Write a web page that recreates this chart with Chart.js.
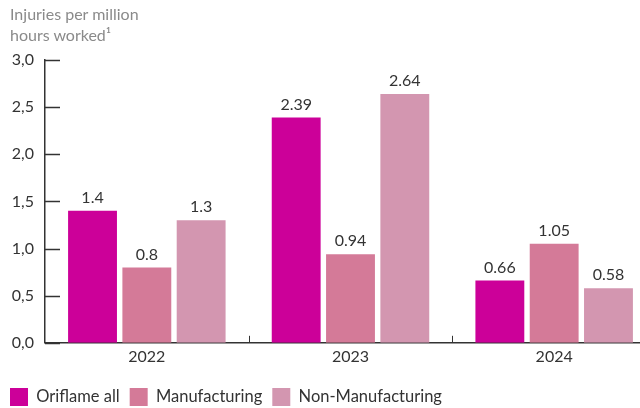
<!DOCTYPE html>
<html>
<head>
<meta charset="utf-8">
<script src="https://cdn.jsdelivr.net/npm/chart.js@4.4.1/dist/chart.umd.min.js"></script>
<style>
  html, body { margin: 0; padding: 0; background: #fff; overflow: hidden; }
  #wrap { position: relative; width: 656px; height: 408px; }
  #axis-title {
    position: absolute; left: 10px; top: 3px;
    font: 16px Lato, sans-serif; color: #8a8a8a; line-height: 21px;
  }
</style>
</head>
<body>
<div id="wrap">
  <canvas id="chart" width="656" height="408"></canvas>
  <div id="axis-title">Injuries per million<br>hours worked¹</div>
</div>
<script>
// Chart data
const years = ['2022', '2023', '2024'];
const oriflameAll = [1.4, 2.39, 0.66];
const manufacturing = [0.8, 0.94, 1.05];
const nonManufacturing = [1.3, 2.64, 0.58];
const yTicks = [0, 0.5, 1.0, 1.5, 2.0, 2.5, 3.0];

const FONT = 'Lato, sans-serif';
const TEXT = '#333333';

// Draws the inward tick marks and the value labels above bars
const extrasPlugin = {
    id: 'extras',
    afterDraw(chart) {
        const ctx = chart.ctx;
        const x = chart.scales.x;
        const y = chart.scales.y;
        ctx.save();
        ctx.strokeStyle = TEXT;
        ctx.lineWidth = 1.5;
        // y ticks point into the plot
        yTicks.forEach(v => {
            const py = Math.round(y.getPixelForValue(v)) + 0.5;
            ctx.beginPath();
            ctx.moveTo(x.left, py);
            ctx.lineTo(x.left + 15, py);
            ctx.stroke();
        });
        // small ticks between categories
        ctx.lineWidth = 1;
        for (let i = 1; i < years.length; i++) {
            const px = Math.round((x.getPixelForValue(i - 1) + x.getPixelForValue(i)) / 2) + 0.5;
            ctx.beginPath();
            ctx.moveTo(px, y.bottom);
            ctx.lineTo(px, y.bottom - 7);
            ctx.stroke();
        }
        // value labels
        ctx.fillStyle = TEXT;
        ctx.font = '16px ' + FONT;
        ctx.textAlign = 'center';
        ctx.textBaseline = 'bottom';
        chart.data.datasets.forEach((ds, i) => {
            chart.getDatasetMeta(i).data.forEach((bar, j) => {
                ctx.fillText(String(ds.data[j]), bar.x, bar.y - 5);
            });
        });
        ctx.restore();
    }
};

new Chart(document.getElementById('chart'), {
    type: 'bar',
    data: {
        labels: years,
        datasets: [
            { label: 'Oriflame all', data: oriflameAll, backgroundColor: '#cc0099' },
            { label: 'Manufacturing', data: manufacturing, backgroundColor: '#d47a98' },
            { label: 'Non-Manufacturing', data: nonManufacturing, backgroundColor: '#d396b0' }
        ]
    },
    options: {
        responsive: false,
        animation: false,
        categoryPercentage: 0.8,
        barPercentage: 0.9,
        layout: { padding: { top: 60, right: 0, bottom: -8, left: 0 } },
        plugins: {
            tooltip: { enabled: false },
            legend: {
                position: 'bottom',
                align: 'start',
                labels: {
                    boxWidth: 18,
                    boxHeight: 18,
                    padding: 10,
                    color: TEXT,
                    font: { family: FONT, size: 16.5 }
                }
            }
        },
        scales: {
            x: {
                afterFit(scale) { scale.height = scale.height + 8; },
                grid: { display: false, drawTicks: false },
                border: { color: TEXT, width: 1.5 },
                ticks: { color: TEXT, font: { family: FONT, size: 16 }, padding: 4 }
            },
            y: {
                min: 0,
                max: 3,
                afterFit(scale) { scale.width = 45; },
                afterBuildTicks(scale) { scale.ticks = yTicks.map(v => ({ value: v })); },
                grid: { display: false, drawTicks: false },
                border: { color: TEXT, width: 1.5 },
                ticks: {
                    color: TEXT,
                    font: { family: FONT, size: 16 },
                    padding: 11,
                    callback: v => v.toFixed(1).replace('.', ',')
                }
            }
        }
    },
    plugins: [extrasPlugin]
});
</script>
</body>
</html>
